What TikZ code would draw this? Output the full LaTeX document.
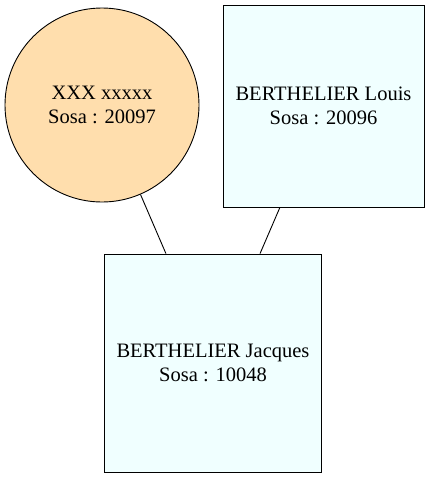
\documentclass[tikz,border=0pt]{standalone}
\usepackage{fontspec}
\setmainfont{Liberation Serif}
\newfontfamily\nodefont{Liberation Serif}
\begin{document}
\begin{tikzpicture}[x=1pt,y=-1pt,
  person/.style={draw=black, line width=0.9pt, align=center, inner sep=0pt,
    font=\nodefont\fontsize{20.5}{23.5}\selectfont},
  female/.style={person, circle, fill={rgb,255:red,255;green,222;blue,173}, minimum size=194pt},
  male/.style={person, rectangle, fill={rgb,255:red,240;green,255;blue,255}},
  link/.style={draw=black, line width=0.9pt}]
\useasboundingbox (0,0) rectangle (430,477);
\node[female] (mother) at (102,105) {XXX xxxxx\\Sosa : 20097};
\node[male, minimum width=201pt, minimum height=202pt] (father) at (323.5,106) {BERTHELIER Louis\\Sosa : 20096};
\node[male, minimum width=217pt, minimum height=218pt] (child) at (213,363) {BERTHELIER Jacques\\Sosa : 10048};
\draw[link] (mother) -- (child);
\draw[link] (father) -- (child);
\end{tikzpicture}
\end{document}
